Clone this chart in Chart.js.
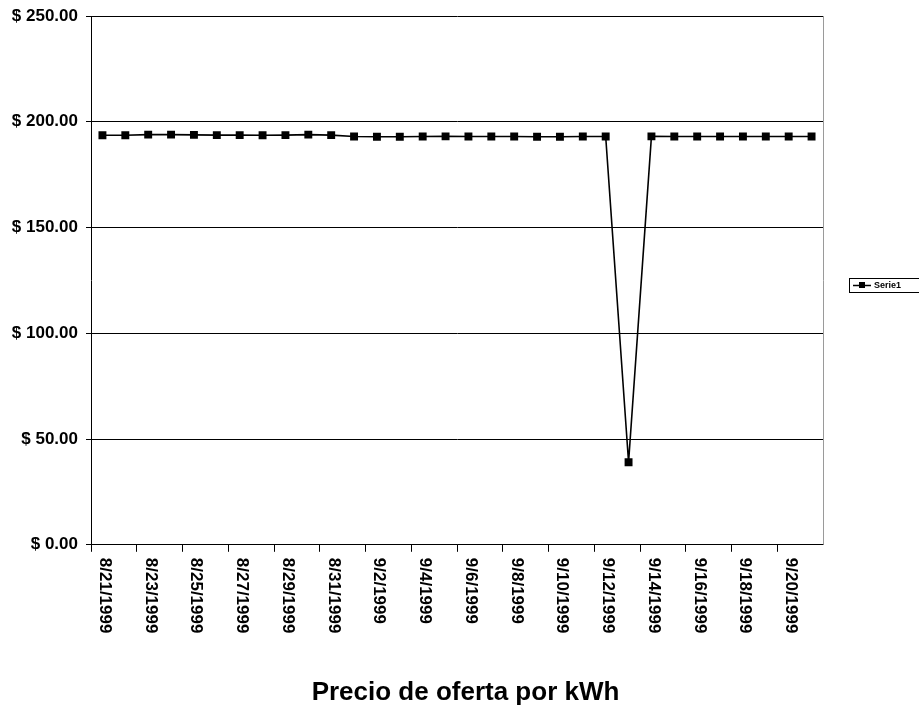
<!DOCTYPE html>
<html>
<head>
<meta charset="utf-8">
<script src="https://cdn.jsdelivr.net/npm/chart.js@4.4.0/dist/chart.umd.min.js"></script>
<style>
  html, body { margin: 0; padding: 0; background: #fff; }
</style>
</head>
<body>
<canvas id="precio_graph" width="919" height="714"></canvas>
<script>
// ----------------------------- data ---------------------- >>
const fechas = [
  '8/21/1999', '8/22/1999', '8/23/1999', '8/24/1999', '8/25/1999', '8/26/1999',
  '8/27/1999', '8/28/1999', '8/29/1999', '8/30/1999', '8/31/1999', '9/1/1999',
  '9/2/1999', '9/3/1999', '9/4/1999', '9/5/1999', '9/6/1999', '9/7/1999',
  '9/8/1999', '9/9/1999', '9/10/1999', '9/11/1999', '9/12/1999', '9/13/1999',
  '9/14/1999', '9/15/1999', '9/16/1999', '9/17/1999', '9/18/1999', '9/19/1999',
  '9/20/1999', '9/21/1999'
];
const precios = [
  193.6, 193.6, 193.9, 193.9, 193.8, 193.7, 193.7, 193.6, 193.7, 193.9, 193.7, 193.0,
  192.9, 192.9, 193.0, 193.1, 193.0, 193.0, 193.0, 192.9, 192.9, 193.0, 193.0, 39.0,
  193.1, 193.0, 193.0, 193.0, 193.0, 193.0, 193.0, 193.0
];
const serieNombre = 'Serie1';
const titulo = 'Precio de oferta por kWh';

const fuente = '"Liberation Sans", Arial, sans-serif';

// ----------------------------- plugins ---------------------- >>
// date labels read top to bottom (rotated clockwise), every second day
const etiquetasX = {
  id: 'etiquetasX',
  afterDraw(chart) {
    const ctx = chart.ctx;
    const x = chart.scales.x;
    ctx.save();
    ctx.font = 'bold 17px ' + fuente;
    ctx.fillStyle = '#000';
    ctx.textAlign = 'left';
    ctx.textBaseline = 'middle';
    for (let i = 0; i < fechas.length; i += 2) {
      ctx.save();
      ctx.translate(x.getPixelForValue(i) + 2, x.top + 13);
      ctx.rotate(Math.PI / 2);
      ctx.fillText(fechas[i], 0, 0);
      ctx.restore();
    }
    ctx.restore();
  }
};

// grey right edge of the plot area + boxed legend on the right
const marcoYLeyenda = {
  id: 'marcoYLeyenda',
  afterDraw(chart) {
    const ctx = chart.ctx;
    const a = chart.chartArea;
    const ds = chart.data.datasets[0];
    ctx.save();
    ctx.strokeStyle = '#9a9a9a';
    ctx.lineWidth = 1;
    ctx.beginPath();
    ctx.moveTo(Math.round(a.right) + 0.5, a.top);
    ctx.lineTo(Math.round(a.right) + 0.5, a.bottom);
    ctx.stroke();

    const x0 = Math.round(a.right) + 26;
    const yc = Math.round((a.top + a.bottom) / 2) + 5;
    ctx.strokeStyle = '#000';
    ctx.strokeRect(x0 + 0.5, yc - 7 + 0.5, 70, 14);
    ctx.strokeStyle = ds.borderColor;
    ctx.lineWidth = 1.5;
    ctx.beginPath();
    ctx.moveTo(x0 + 4, yc + 0.5);
    ctx.lineTo(x0 + 22, yc + 0.5);
    ctx.stroke();
    ctx.fillStyle = ds.pointBackgroundColor;
    ctx.fillRect(x0 + 10, yc - 3, 6, 6);
    ctx.fillStyle = '#000';
    ctx.font = 'bold 9px ' + fuente;
    ctx.textBaseline = 'middle';
    ctx.fillText(serieNombre, x0 + 25, yc + 1);
    ctx.restore();
  }
};

// ----------------------------- graph ---------------------- >>
const ctx = document.getElementById('precio_graph').getContext('2d');
const precioChart = new Chart(ctx, {
  type: 'line',
  data: {
    labels: fechas,
    datasets: [{
      label: serieNombre,
      data: precios,
      borderColor: '#000',
      borderWidth: 1.6,
      pointStyle: 'rect',
      pointRadius: 5.6,
      pointBackgroundColor: '#000',
      pointBorderColor: '#000',
      pointBorderWidth: 0,
      tension: 0
    }]
  },
  options: {
    responsive: false,
    animation: false,
    layout: { padding: { top: 16, right: 0, bottom: 6, left: 12 } },
    plugins: {
      legend: { display: false },
      tooltip: { enabled: false },
      title: {
        display: true,
        text: titulo,
        position: 'bottom',
        color: '#000',
        font: { family: fuente, size: 26, weight: 'bold' },
        padding: { top: 0, bottom: 0 }
      }
    },
    scales: {
      x: {
        offset: true,
        afterFit(scale) { scale.height = 132; },
        grid: {
          offset: true,
          drawOnChartArea: false,
          drawTicks: true,
          tickLength: 7,
          color: (c) => (c.index % 2 === 0 ? '#000' : 'rgba(0,0,0,0)')
        },
        border: { color: '#000', width: 1 },
        ticks: { display: false, autoSkip: false }
      },
      y: {
        min: 0,
        max: 250,
        afterFit(scale) {
          scale.width = 79;
          scale.paddingTop = 4; // let the top label sit close to the canvas edge
        },
        grid: {
          color: '#000',
          lineWidth: 1,
          tickLength: 5
        },
        border: { color: '#000', width: 1 },
        ticks: {
          stepSize: 50,
          color: '#000',
          padding: 8,
          font: { family: fuente, size: 17, weight: 'bold' },
          callback: (v) => '$ ' + v.toFixed(2)
        }
      },
      // empty strip on the right, room for the legend
      yDer: {
        position: 'right',
        afterFit(scale) { scale.width = 96; },
        grid: { display: false },
        border: { display: false },
        ticks: { display: false }
      }
    }
  },
  plugins: [etiquetasX, marcoYLeyenda]
});
</script>
</body>
</html>
